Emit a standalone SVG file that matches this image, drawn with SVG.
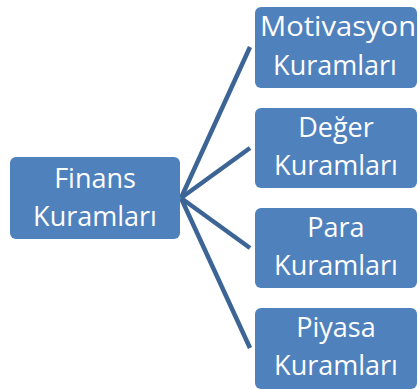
<svg xmlns="http://www.w3.org/2000/svg" width="420" height="389" viewBox="0 0 420 389">
<style>
.box{fill:#4f81bd;}
.t{fill:#ffffff;font-family:"Open Sans","Liberation Sans",sans-serif;font-size:27px;text-anchor:middle;}
.c{stroke:#3c6596;stroke-width:4.5;fill:none;stroke-linecap:butt;}
</style>
<rect width="420" height="389" fill="#ffffff"/>
<g id="connectors">
<line class="c" x1="181" y1="198" x2="250" y2="47"/>
<line class="c" x1="181" y1="198" x2="250" y2="148"/>
<line class="c" x1="181" y1="198" x2="250" y2="248"/>
<line class="c" x1="181" y1="198" x2="250" y2="348"/>
</g>
<g id="finans">
<rect class="box" x="10" y="157" width="170" height="82" rx="6"/>
<text class="t" x="95" y="188">Finans</text>
<text class="t" x="95" y="226">Kuramları</text>
</g>
<g id="motivasyon">
<rect class="box" x="255" y="7" width="162" height="81" rx="6"/>
<text class="t" x="338" y="36" textLength="156" lengthAdjust="spacingAndGlyphs">Motivasyon</text>
<text class="t" x="335" y="75">Kuramları</text>
</g>
<g id="deger">
<rect class="box" x="255" y="108" width="162" height="80" rx="6"/>
<text class="t" x="336" y="137">Değer</text>
<text class="t" x="336" y="175">Kuramları</text>
</g>
<g id="para">
<rect class="box" x="255" y="208" width="162" height="80" rx="6"/>
<text class="t" x="336" y="237">Para</text>
<text class="t" x="336" y="275">Kuramları</text>
</g>
<g id="piyasa">
<rect class="box" x="255" y="308" width="162" height="81" rx="6"/>
<text class="t" x="336" y="337">Piyasa</text>
<text class="t" x="336" y="375">Kuramları</text>
</g>
</svg>
